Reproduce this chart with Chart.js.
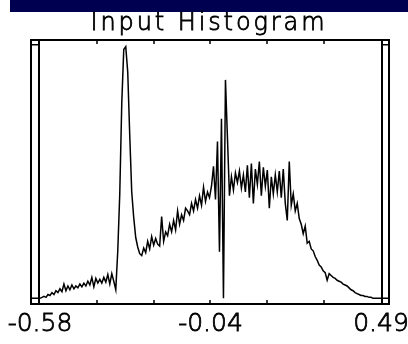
<!DOCTYPE html>
<html>
<head>
<meta charset="utf-8">
<script src="https://cdn.jsdelivr.net/npm/chart.js@4"></script>
<style>
  body { margin: 0; background: #fff; }
  canvas { display: block; }
</style>
</head>
<body>
<canvas id="histChart" width="408" height="344"></canvas>
<script>
// histogram range and bin counts (172 bins)
const xMin = -0.58;
const xMax = 0.49;
const counts = [
  0, 1, 2, 1, 4, 3, 6, 4, 8, 6,
  10, 7, 15, 8, 13, 9, 14, 10, 13, 11,
  15, 12, 16, 13, 18, 14, 22, 12, 21, 16,
  20, 16, 22, 17, 25, 15, 26, 18, 9, 50,
  110, 205, 262, 265, 238, 172, 112, 85, 64, 54,
  47, 45, 53, 48, 60, 52, 65, 56, 63, 57,
  55, 86, 60, 70, 66, 78, 70, 82, 72, 92,
  78, 88, 82, 95, 92, 88, 100, 92, 104, 95,
  108, 98, 117, 102, 112, 106, 118, 139, 104, 165,
  49, 189, 0, 230, 169, 108, 128, 114, 132, 122,
  134, 116, 130, 112, 140, 106, 142, 100, 136, 120,
  144, 108, 138, 118, 135, 95, 128, 110, 130, 112,
  134, 106, 136, 100, 82, 144, 98, 110, 92, 100,
  84, 78, 68, 76, 58, 60, 52, 50, 44, 40,
  35, 33, 29, 27, 19, 26, 24, 22, 21, 19,
  18, 17, 15, 14, 13, 11, 9, 8, 6, 5,
  4, 3, 3, 2, 2, 1, 1, 0, 0, 0,
  0, 0
];
const countMax = 267;

// axis labels and tick marks
const labelValues = [-0.58, -0.045, 0.49];
const labelTexts = ["-0.58", "-0.04", "0.49"];
const minorTicks = [-0.4017, -0.2233, -0.045, 0.1333, 0.3117];

const titleText = "Input Histogram";

const step = (xMax - xMin) / (counts.length - 1);
const points = counts.map((c, i) => ({ x: xMin + i * step, y: c }));

// title, top band, frame, inward ticks and the range markers at the sides
const decorations = {
  id: "decorations",
  beforeDraw(chart) {
    const ctx = chart.ctx;
    ctx.save();
    ctx.fillStyle = "#fff";
    ctx.fillRect(0, 0, chart.width, chart.height);
    ctx.fillStyle = "#000050";
    ctx.fillRect(10, 0, chart.width - 10, 12);
    ctx.fillStyle = "#000";
    ctx.strokeStyle = "#000";
    ctx.lineWidth = 0.8;
    ctx.font = '200 24px "DejaVu Sans"';
    ctx.letterSpacing = "2.9px";
    ctx.textAlign = "center";
    ctx.textBaseline = "alphabetic";
    ctx.fillText(titleText, 209, 30);
    ctx.strokeText(titleText, 209, 30);
    ctx.restore();
  },
  afterDatasetsDraw(chart) {
    const ctx = chart.ctx;
    const a = chart.chartArea;
    const xs = chart.scales.x;
    const ys = chart.scales.y;
    const leftEdge = xs.getPixelForValue(xMin) - 1;
    const rightEdge = xs.getPixelForValue(xMax) + 1;
    const y0 = ys.getPixelForValue(0);
    const yTop = ys.getPixelForValue(countMax);
    ctx.save();
    ctx.strokeStyle = "#000";
    ctx.lineWidth = 2;
    ctx.strokeRect(a.left, a.top, a.right - a.left, a.bottom - a.top);
    ctx.beginPath();
    ctx.moveTo(leftEdge, a.top);
    ctx.lineTo(leftEdge, a.bottom);
    ctx.moveTo(rightEdge, a.top);
    ctx.lineTo(rightEdge, a.bottom);
    ctx.stroke();
    ctx.lineWidth = 1.5;
    ctx.beginPath();
    [y0, yTop].forEach((y) => {
      ctx.moveTo(a.left, y);
      ctx.lineTo(leftEdge, y);
      ctx.moveTo(rightEdge, y);
      ctx.lineTo(a.right, y);
    });
    minorTicks.forEach((v) => {
      const px = Math.round(xs.getPixelForValue(v));
      ctx.moveTo(px, a.top);
      ctx.lineTo(px, a.top + 4);
      ctx.moveTo(px, a.bottom);
      ctx.lineTo(px, a.bottom - 4);
    });
    ctx.stroke();
    ctx.restore();
  },
};

new Chart(document.getElementById("histChart"), {
  type: "line",
  data: {
    datasets: [
      {
        data: points,
        borderColor: "#000",
        borderWidth: 1.5,
        pointRadius: 0,
        tension: 0,
        fill: false,
      },
    ],
  },
  options: {
    responsive: false,
    animation: false,
    events: [],
    layout: { padding: { left: 31, right: 19, top: 40, bottom: 0 } },
    plugins: {
      legend: { display: false },
      tooltip: { enabled: false },
    },
    scales: {
      x: {
        type: "linear",
        min: xMin - 9 * (xMax - xMin) / 341,
        max: xMax + 8 * (xMax - xMin) / 341,
        afterBuildTicks: (scale) => {
          scale.ticks = labelValues.map((v) => ({ value: v }));
        },
        afterFit: (scale) => {
          scale.paddingLeft = 0;
          scale.paddingRight = 0;
        },
        grid: { display: false, drawTicks: false },
        border: { display: false },
        ticks: {
          autoSkip: false,
          maxRotation: 0,
          padding: 14,
          color: "#000",
          textStrokeColor: "#000",
          textStrokeWidth: 0.8,
          font: { family: "DejaVu Sans", size: 25, weight: 200, lineHeight: 0.48 },
          callback: (value, index) => labelTexts[index],
        },
      },
      y: { display: false, min: -6, max: 272 },
    },
  },
  plugins: [decorations],
});
</script>
</body>
</html>
